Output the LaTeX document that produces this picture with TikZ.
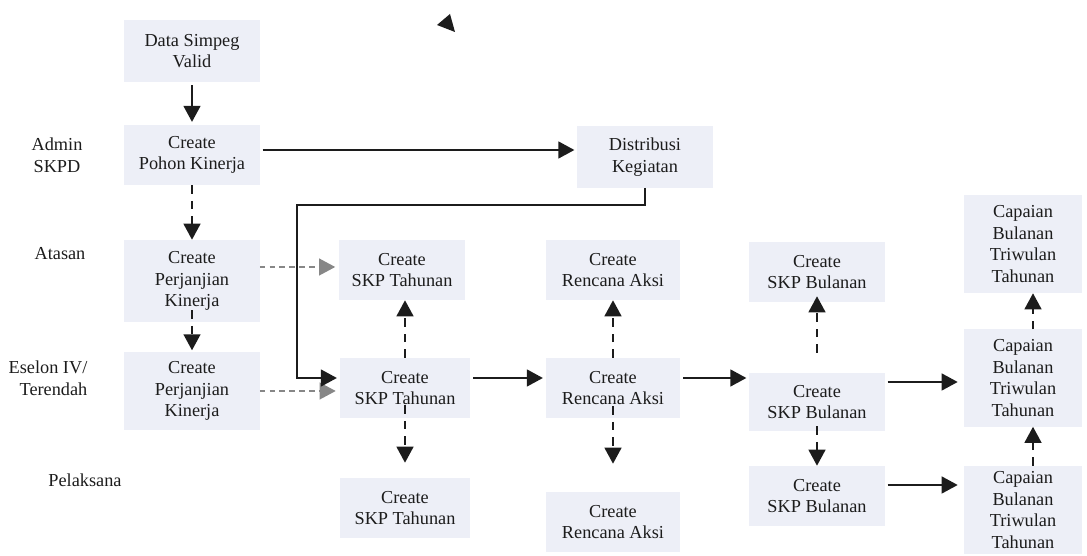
\documentclass[tikz,border=0pt]{standalone}
\usepackage{fontspec}
\setmainfont{Liberation Serif}
\usetikzlibrary{arrows.meta,positioning,calc}
\definecolor{boxfill}{RGB}{237,239,247}
\definecolor{inkgray}{RGB}{28,28,28}
\definecolor{dashgray}{RGB}{135,135,135}

\begin{document}
\begin{tikzpicture}[x=0.025cm,y=-0.025cm,
    box/.style={fill=boxfill,align=center,inner sep=0pt,minimum width=3.375cm,minimum height=1.5cm,
      font=\fontsize{13}{15.3}\selectfont,text=inkgray},
    lane/.style={align=center,inner sep=0pt,font=\fontsize{13}{15.3}\selectfont,text=inkgray},
    flow/.style={-{Triangle[length=0.4cm,width=0.42cm]},line width=1.4pt,draw=inkgray,
      shorten <=2pt,shorten >=2pt},
    dflow/.style={-{Triangle[length=0.4cm,width=0.42cm]},line width=1.4pt,draw=inkgray,
      dash pattern=on 6pt off 5pt},
    gflow/.style={-{Triangle[length=0.4cm,width=0.42cm]},line width=1pt,draw=dashgray,
      dash pattern=on 4pt off 3pt,shorten >=0.1cm}]
				\useasboundingbox (0,0) rectangle (1087,556);

				% lanes
				\node[lane] (admin) at (57,155) {Admin\\SKPD};
				\node[lane] (atasan) at (60,254) {Atasan};
				\node[lane,align=right] (eselon) at (48,378) {Eselon IV/\\Terendah};
				\node[lane] (pelaksana) at (85,480) {Pelaksana};

				% left column
				\node[box,minimum height=1.55cm] (data) at (192,51) {Data Simpeg\\Valid};
				\node[box] (pohon) at (192,155) {Create\\Pohon Kinerja};
				\node[box,minimum height=1.525cm] (dist) at (645,157) {Distribusi\\Kegiatan};
				\node[box,minimum height=2.05cm] (pka) at (192,281) {Create\\Perjanjian\\Kinerja};
				\node[box,minimum height=1.95cm] (pke) at (192,391) {Create\\Perjanjian\\Kinerja};

				% SKP Tahunan
				\node[box,minimum width=3.125cm] (skp1) at (402,270) {Create\\SKP Tahunan};
				\node[box,minimum width=3.25cm] (skp2) at (405,388) {Create\\SKP Tahunan};
				\node[box,minimum width=3.25cm] (skp3) at (405,508) {Create\\SKP Tahunan};

				% Rencana Aksi
				\node[box,minimum width=3.35cm] (ra1) at (613,270) {Create\\Rencana Aksi};
				\node[box,minimum width=3.35cm] (ra2) at (613,388) {Create\\Rencana Aksi};
				\node[box,minimum width=3.35cm] (ra3) at (613,522) {Create\\Rencana Aksi};

				% SKP Bulanan
				\node[box] (bul1) at (817,272) {Create\\SKP Bulanan};
				\node[box,minimum height=1.45cm] (bul2) at (817,402) {Create\\SKP Bulanan};
				\node[box] (bul3) at (817,496) {Create\\SKP Bulanan};

				% Capaian
				\node[box,minimum width=2.95cm,minimum height=2.45cm] (cap1) at (1023,244) {Capaian\\Bulanan\\Triwulan\\Tahunan};
				\node[box,minimum width=2.95cm,minimum height=2.425cm] (cap2) at (1023,378) {Capaian\\Bulanan\\Triwulan\\Tahunan};
				\node[box,minimum width=2.95cm,minimum height=2.2cm] (cap3) at (1023,510) {Capaian\\Bulanan\\Triwulan\\Tahunan};

				\fill[inkgray] (437,25) -- (450,14) -- (455,32) -- cycle;

				% connectors
				\draw[flow] (data) -- (pohon);
				\draw[flow] ([yshift=0.125cm]pohon.east) -- ([yshift=0.125cm]pohon.east -| dist.west);
				\draw[dflow] (pohon) -- (pka);
				\draw[dflow,shorten >=1pt] ([yshift=0.3cm]pka.south) -- (pke.north);
				\draw[gflow] ([yshift=0.35cm]pka.east) -- ([yshift=0.35cm]pka.east -| skp1.west);
				\draw[gflow] (pke.east) -- (pke.east -| skp2.west);
				\coordinate (bend) at (297,205);
				\draw[flow,shorten <=0pt] (dist.south) |- (bend) |- ([yshift=0.25cm]skp2.west);

				\draw[flow] ([yshift=0.25cm]skp2.east) -- ([yshift=0.25cm]skp2.east -| ra2.west);
				\draw[flow] ([yshift=0.25cm]ra2.east) -- ([yshift=0.25cm]ra2.east -| bul2.west);
				\draw[flow,shorten >=0.15cm] ([yshift=0.5cm]bul2.east) -- ([yshift=0.5cm]bul2.east -| cap2.west);
				\draw[flow,shorten >=0.15cm] ([yshift=0.275cm]bul3.east) -- ([yshift=0.275cm]bul3.east -| cap3.west);

				\draw[dflow] (skp2.north) -- (skp2.north |- skp1.south);
				\draw[dflow,shorten >=0.375cm] ([yshift=0.325cm]skp2.south) -- (skp3.north);
				\draw[dflow] (ra2.north) -- (ra1.south);
				\draw[dflow,shorten >=0.7cm] ([yshift=0.3cm]ra2.south) -- (ra3.north);
				\draw[dflow,shorten <=0.5cm,shorten >=-0.15cm] (bul2.north) -- (bul1.south);
				\draw[dflow] ([yshift=0.125cm]bul2.south) -- (bul3.north);
				\draw[dflow] ([xshift=0.25cm]cap2.north) -- ([xshift=0.25cm]cap1.south);
				\draw[dflow] ([xshift=0.25cm]cap3.north) -- ([xshift=0.25cm]cap2.south);
\end{tikzpicture}
\end{document}
